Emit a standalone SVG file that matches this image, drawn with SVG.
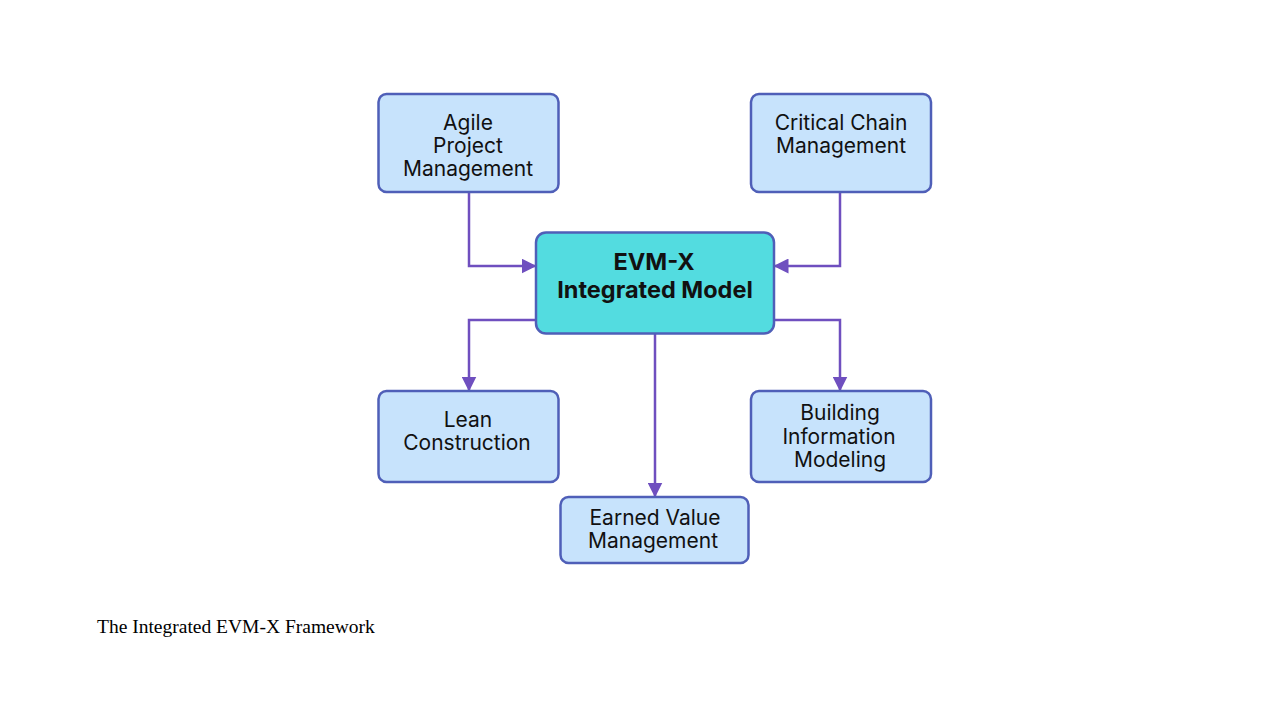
<svg xmlns="http://www.w3.org/2000/svg" width="1282" height="703" viewBox="0 0 1282 703">
<style>
.box{fill:#c7e3fc;stroke:#4f5fb8;stroke-width:2.5}
.core{fill:#53dce0;stroke:#4f5fb8;stroke-width:2.5}
.t{font-family:Inter,"Liberation Sans",sans-serif;font-size:21px;fill:#111;text-anchor:middle}
.tb{font-family:Inter,"Liberation Sans",sans-serif;font-size:23.5px;font-weight:bold;fill:#111;text-anchor:middle}
.c{fill:none;stroke:#6f4fbf;stroke-width:2.5;marker-end:url(#ah)}
.cap{font-family:"Liberation Serif",serif;font-size:19.5px;fill:#000}
</style>
<defs>
<marker id="ah" viewBox="0 0 10 10" refX="9" refY="5" markerWidth="6" markerHeight="6" orient="auto" markerUnits="strokeWidth">
<path d="M0,0 L10,5 L0,10 z" fill="#6f4fbf"/>
</marker>
</defs>
<rect width="1282" height="703" fill="#fff"/>
<g id="connectors">
<path class="c" d="M469,193 V266 H535"/>
<path class="c" d="M840,193 V266 H775"/>
<path class="c" d="M536,320 H469 V390"/>
<path class="c" d="M774,320 H840 V390"/>
<path class="c" d="M655,334 V496"/>
</g>
<g id="agile">
<rect class="box" x="378.5" y="94" width="180" height="98" rx="8"/>
<text class="t" x="468" y="130">Agile</text>
<text class="t" x="468" y="153">Project</text>
<text class="t" x="468" y="176">Management</text>
</g>
<g id="critical">
<rect class="box" x="751" y="94" width="180" height="98" rx="8"/>
<text class="t" x="841" y="130">Critical Chain</text>
<text class="t" x="841" y="153">Management</text>
</g>
<g id="core">
<rect class="core" x="536" y="232.5" width="238" height="101" rx="10"/>
<text class="tb" x="654" y="270">EVM-X</text>
<text class="tb" x="655" y="298">Integrated Model</text>
</g>
<g id="lean">
<rect class="box" x="378.5" y="391" width="180" height="91" rx="8"/>
<text class="t" x="468" y="427">Lean</text>
<text class="t" x="467" y="450">Construction</text>
</g>
<g id="bim">
<rect class="box" x="751" y="391" width="180" height="91" rx="8"/>
<text class="t" x="840" y="420">Building</text>
<text class="t" x="839" y="444">Information</text>
<text class="t" x="840" y="467">Modeling</text>
</g>
<g id="evm">
<rect class="box" x="560.5" y="497" width="188" height="66" rx="8"/>
<text class="t" x="655" y="525">Earned Value</text>
<text class="t" x="653" y="548">Management</text>
</g>
<text class="cap" x="97" y="633">The Integrated EVM-X Framework</text>
</svg>
